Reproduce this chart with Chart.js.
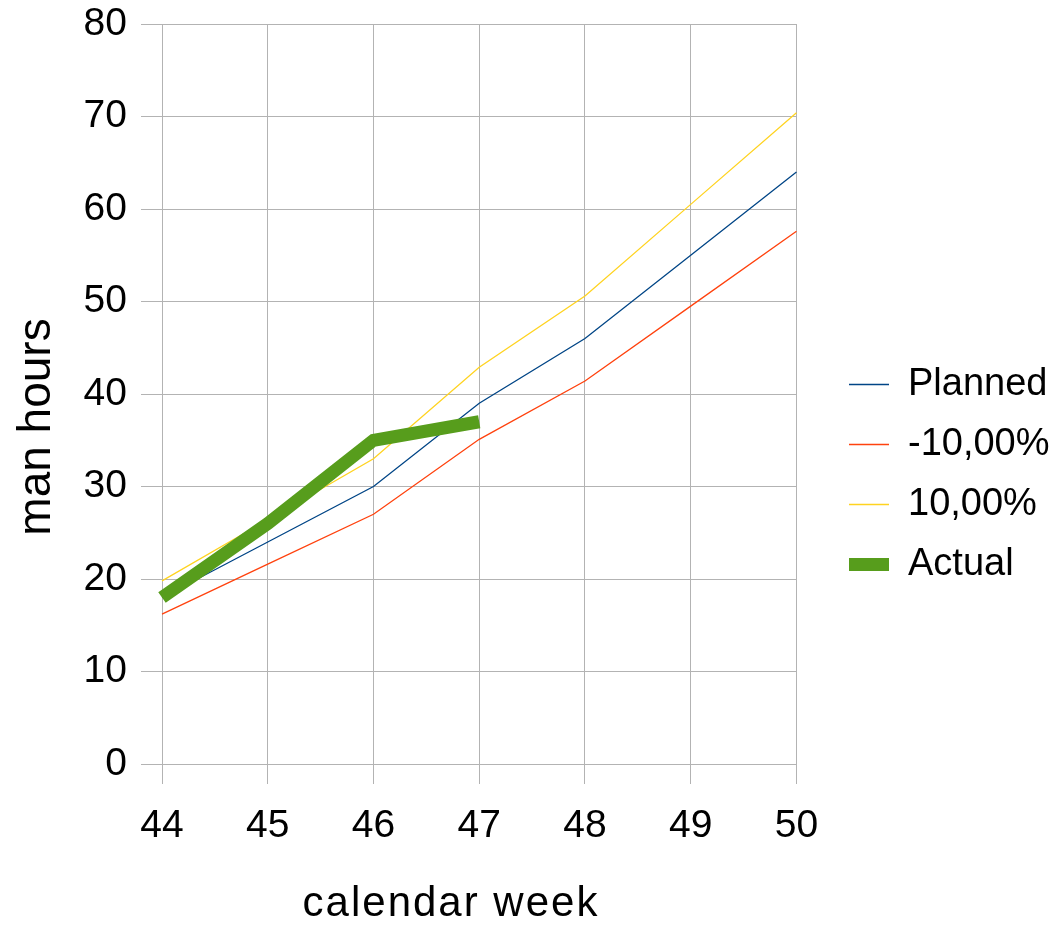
<!DOCTYPE html>
<html>
<head>
<meta charset="utf-8">
<script src="https://cdn.jsdelivr.net/npm/chart.js@4/dist/chart.umd.min.js"></script>
<style>
  body { margin: 0; background: #fff; }
  #wrap { width: 1062px; height: 925px; position: relative; }
</style>
</head>
<body>
<div id="wrap"><canvas id="grafik"></canvas></div>
<script>
// data
const weeks = ["44", "45", "46", "47", "48", "49", "50"];
const planned = [18, 24, 30, 39, 46, 55, 64];
const minus10 = [16.2, 21.6, 27, 35.1, 41.4, 49.5, 57.6];
const plus10 = [19.8, 26.4, 33, 42.9, 50.6, 60.5, 70.4];
const actual = [18, 26, 35, 37];
const yTicks = [0, 10, 20, 30, 40, 50, 60, 70, 80];
const xTitle = "calendar week";
const yTitle = "man hours";

const font = "'Liberation Sans', Arial, sans-serif";
const gridCol = "#b3b3b3";

// legend sits a bit away from the plot, like the original
const legendNudge = {
    id: "legendNudge",
    afterLayout(chart) {
        const l = chart.legend;
        const dx = 827 - l.left;
        l.left += dx; l.right += dx;
    }
};

// axis titles are not centred on the plot in the original, so draw them here
const axisTitles = {
    id: "axisTitles",
    afterDraw(chart) {
        const ctx = chart.ctx;
        ctx.save();
        ctx.fillStyle = "#000";
        ctx.textAlign = "center";
        ctx.textBaseline = "alphabetic";
        ctx.font = "42px " + font;
        ctx.letterSpacing = "2px";
        ctx.fillText(xTitle, 451, 916);
        ctx.letterSpacing = "0px";
        ctx.font = "46px " + font;
        ctx.translate(50, 427);
        ctx.rotate(-Math.PI / 2);
        ctx.fillText(yTitle, 0, 0);
        ctx.restore();
    }
};

const line = (label, data, color, width, order) => ({
    label, data, borderColor: color, backgroundColor: color,
    borderWidth: width, pointRadius: 0, tension: 0, fill: false, order
});

new Chart(grafik, {
    type: "line",
    data: {
        labels: weeks,
        datasets: [
            line("Planned", planned, "#004586", 1.3, 1),
            line("-10,00%", minus10, "#ff420e", 1.3, 2),
            line("10,00%", plus10, "#ffd320", 1.3, 3),
            line("Actual", actual, "#579d1c", 13, 0)
        ]
    },
    options: {
        responsive: true, maintainAspectRatio: false, animation: false,
        layout: { padding: { top: 24, right: 33, left: 0, bottom: 0 } },
        plugins: {
            tooltip: { enabled: false },
            legend: {
                position: "right",
                labels: {
                    usePointStyle: true, pointStyle: "line", pointStyleWidth: 40,
                    padding: 22, color: "#000",
                    font: { family: font, size: 38 },
                    sort: (a, b) => a.datasetIndex - b.datasetIndex
                }
            }
        },
        scales: {
            x: {
                offset: false,
                grid: { color: gridCol, lineWidth: 1, tickLength: 20 },
                border: { color: gridCol },
                ticks: { color: "#000", padding: 19, maxRotation: 0, font: { family: font, size: 39 } },
                afterFit: s => { s.height = 161; }
            },
            y: {
                min: 0, max: 80,
                afterBuildTicks: s => { s.ticks = yTicks.map(v => ({ value: v })); },
                grid: { color: gridCol, lineWidth: 1, tickLength: 21 },
                border: { color: gridCol },
                ticks: { color: "#000", padding: 14, font: { family: font, size: 39 } },
                afterFit: s => { s.width = 162; s.paddingTop = 0; s.paddingBottom = 0; }
            }
        }
    },
    plugins: [legendNudge, axisTitles]
});
</script>
</body>
</html>
